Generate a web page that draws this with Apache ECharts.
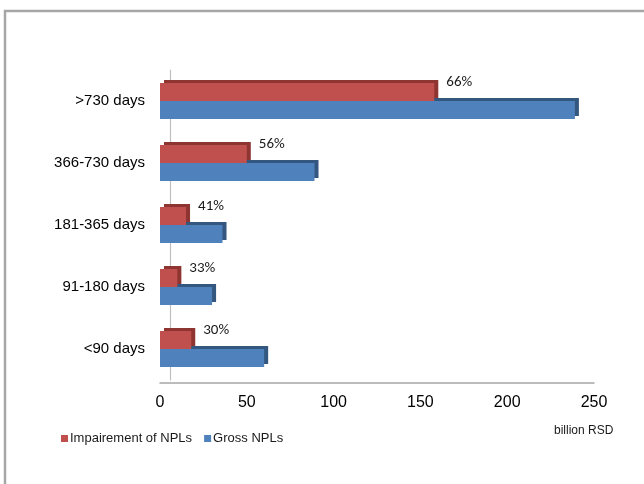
<!DOCTYPE html>
<html>
<head>
<meta charset="utf-8">
<script src="https://cdn.jsdelivr.net/npm/echarts@6/dist/echarts.min.js"></script>
<style>
  html, body { margin: 0; padding: 0; background: #ffffff; }
  #chart { width: 644px; height: 484px; }
</style>
</head>
<body>
<div id="chart"></div>
<script>
// NPL ageing buckets, bottom to top
var categories = ['<90 days', '91-180 days', '181-365 days', '366-730 days', '>730 days'];
// billion RSD
var grossNPLs = [60, 30, 36, 89, 239];
var impairment = [18, 10, 15, 50, 158];
// coverage ratio shown beside each impairment bar
var coverageLabels = ['30%', '33%', '41%', '56%', '66%'];
var xTicks = { min: 0, max: 250, interval: 50 };

var FONT = '"Liberation Sans", Arial, sans-serif';

var chart = echarts.init(document.getElementById('chart'), null, { renderer: 'canvas' });

chart.setOption({
  animation: false,
  backgroundColor: '#ffffff',
  grid: { left: 160, right: 50, top: 70, bottom: 104, containLabel: false },
  legend: {
    data: ['Impairement of NPLs', 'Gross NPLs'],
    left: 56,
    top: 427,
    icon: 'rect',
    itemWidth: 7,
    itemHeight: 7,
    itemGap: 12,
    textStyle: { fontFamily: FONT, fontSize: 13, color: '#1a1a1a', padding: [0, 0, 0, -3] }
  },
  xAxis: {
    type: 'value',
    min: xTicks.min,
    max: xTicks.max,
    interval: xTicks.interval,
    offset: 3,
    axisLine: { show: true, lineStyle: { color: '#a6a6a6', width: 1.5 } },
    axisTick: { show: false },
    splitLine: { show: false },
    axisLabel: { margin: 12, fontFamily: FONT, fontSize: 16, color: '#000000' }
  },
  yAxis: [
    {
      type: 'category',
      data: categories,
      axisLine: { show: false },
      axisTick: { show: false },
      axisLabel: { margin: 15, fontFamily: FONT, fontSize: 15, color: '#000000' }
    },
    {
      // back wall of the plot
      type: 'category',
      data: categories,
      position: 'left',
      offset: -10,
      axisLine: { show: true, lineStyle: { color: '#bfbfbf', width: 1.2 } },
      axisTick: { show: false },
      axisLabel: { show: false }
    }
  ],
  series: [
    {
      name: 'Impairement of NPLs',
      type: 'bar',
      data: impairment,
      barWidth: 18,
      barGap: '0%',
      z: 3,
      itemStyle: {
        color: '#c0504d',
        shadowColor: '#8e3532',
        shadowBlur: 0,
        shadowOffsetX: 4,
        shadowOffsetY: -3
      },
      label: {
        show: true,
        position: 'right',
        distance: 5,
        offset: [7, -10],
        fontFamily: 'Carlito, Lato, sans-serif',
        fontSize: 15,
        color: '#1a1a1a',
        formatter: function (p) { return coverageLabels[p.dataIndex]; }
      }
    },
    {
      name: 'Gross NPLs',
      type: 'bar',
      data: grossNPLs,
      barWidth: 18,
      barGap: '0%',
      z: 2,
      itemStyle: {
        color: '#4f81bd',
        shadowColor: '#34577f',
        shadowBlur: 0,
        shadowOffsetX: 4,
        shadowOffsetY: -3
      }
    }
  ],
  graphic: [
    {
      type: 'text',
      left: 554,
      top: 425,
      style: { text: 'billion RSD', fontFamily: FONT, fontSize: 12, fill: '#1a1a1a' }
    },
    {
      // outer frame, top and left edges
      type: 'polyline',
      shape: { points: [[644, 11], [5, 11], [5, 484]] },
      style: { stroke: '#a6a6a6', lineWidth: 2.5, fill: null }
    }
  ]
});
</script>
</body>
</html>
